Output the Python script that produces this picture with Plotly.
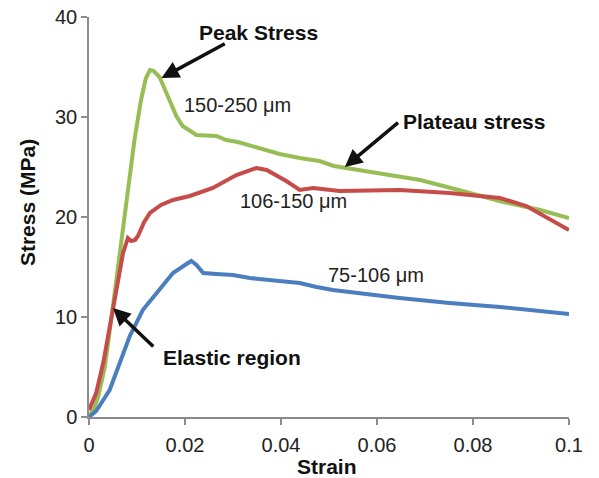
import plotly.graph_objects as go

# ---- data ----
strain_150_250 = [0, 0.001, 0.0019, 0.0033, 0.0047, 0.0071, 0.0095, 0.0108, 0.0118, 0.0127,
                  0.0135, 0.0147, 0.0168, 0.0182, 0.0195, 0.0224, 0.0265, 0.0286, 0.031, 0.0356,
                  0.0397, 0.0439, 0.048, 0.051, 0.0535, 0.0605, 0.069, 0.077, 0.0855, 0.094, 0.1]
stress_150_250 = [0, 0.8, 2.0, 5.0, 10.0, 19.0, 27.8, 31.6, 33.8, 34.7,
                  34.6, 34.0, 31.7, 30.1, 29.1, 28.2, 28.1, 27.7, 27.5, 26.9,
                  26.3, 25.9, 25.6, 25.1, 24.9, 24.4, 23.7, 22.7, 21.6, 20.7, 19.9]

strain_106_150 = [0, 0.0015, 0.003, 0.0047, 0.006, 0.0071, 0.0081, 0.0088, 0.0096, 0.0102,
                  0.0115, 0.0127, 0.015, 0.0175, 0.021, 0.0258, 0.0307, 0.0349, 0.037, 0.0411,
                  0.0439, 0.0467, 0.0522, 0.0647, 0.0751, 0.0856, 0.0911, 0.0946, 0.1]
stress_106_150 = [0.7, 2.4, 5.5, 10.0, 13.7, 16.4, 17.9, 17.6, 17.7, 18.1,
                  19.5, 20.4, 21.2, 21.7, 22.1, 22.9, 24.2, 24.9, 24.7, 23.6,
                  22.7, 22.9, 22.6, 22.7, 22.4, 21.9, 21.1, 20.2, 18.7]

strain_75_106 = [0, 0.0015, 0.0043, 0.0064, 0.0085, 0.0112, 0.0147, 0.0175, 0.02, 0.0213,
                 0.0224, 0.0238, 0.0265, 0.03, 0.0335, 0.0404, 0.0439, 0.0474, 0.0508, 0.0647,
                 0.0751, 0.0856, 0.0925, 0.1]
stress_75_106 = [0, 0.6, 2.7, 5.4, 8.1, 10.7, 12.7, 14.4, 15.2, 15.6,
                 15.2, 14.4, 14.3, 14.2, 13.9, 13.6, 13.4, 13.0, 12.7, 11.9,
                 11.4, 11.0, 10.7, 10.3]

series_labels = ["150-250 μm", "106-150 μm", "75-106 μm"]
series_colors = ["#97bd55", "#c64c49", "#4a7ebf"]

x_ticks = [0, 0.02, 0.04, 0.06, 0.08, 0.1]
x_ticktext = ["0", "0.02", "0.04", "0.06", "0.08", "0.1"]
y_ticks = [0, 10, 20, 30, 40]

FONT = "Liberation Sans, Arial, sans-serif"

fig = go.Figure()
for xs, ys, name, col in [
    (strain_150_250, stress_150_250, series_labels[0], series_colors[0]),
    (strain_106_150, stress_106_150, series_labels[1], series_colors[1]),
    (strain_75_106, stress_75_106, series_labels[2], series_colors[2]),
]:
    fig.add_trace(go.Scatter(x=xs, y=ys, mode="lines", name=name,
                             line=dict(color=col, width=4)))

annots = []
# series labels
for txt, x, y in [(series_labels[0], 0.031, 31.2),
                  (series_labels[1], 0.0426, 21.56),
                  (series_labels[2], 0.0598, 14.23)]:
    annots.append(dict(x=x, y=y, xref="x", yref="y", text=txt, showarrow=False,
                       font=dict(family=FONT, size=20, color="#222")))
# bold callouts
for txt, x, y in [("Peak Stress", 0.0353, 38.43),
                  ("Plateau stress", 0.0803, 29.56),
                  ("Elastic region", 0.0298, 5.93)]:
    annots.append(dict(x=x, y=y, xref="x", yref="y", text="<b>%s</b>" % txt,
                       showarrow=False, font=dict(family=FONT, size=21, color="#111")))
# arrows (head, tail)
for hx, hy, tx, ty in [(0.0151, 33.9, 0.0286, 37.4),
                       (0.0533, 25.0, 0.0647, 29.56),
                       (0.0050, 10.9, 0.0137, 6.9)]:
    annots.append(dict(x=hx, y=hy, ax=tx, ay=ty, xref="x", yref="y", axref="x", ayref="y",
                       text="", showarrow=True, arrowhead=2, arrowsize=1,
                       arrowwidth=3.5, arrowcolor="#111"))
# y-axis title
annots.append(dict(x=-0.129, y=0.535, xref="paper", yref="paper",
                   text="<b>Stress (MPa)</b>", textangle=-90, showarrow=False,
                   xanchor="center", yanchor="middle",
                   font=dict(family=FONT, size=21, color="#111")))
# x-axis title
annots.append(dict(x=0.496, y=-0.123, xref="paper", yref="paper",
                   text="<b>Strain</b>", showarrow=False,
                   xanchor="center", yanchor="middle",
                   font=dict(family=FONT, size=21, color="#111")))

axis_common = dict(showline=True, linecolor="#8c8c8c", linewidth=1.5, ticks="outside",
                   ticklen=6, tickcolor="#8c8c8c", tickwidth=1.5, showgrid=False,
                   zeroline=False, automargin=False,
                   tickfont=dict(family=FONT, size=20, color="#222"))

fig.update_layout(
    width=599, height=478,
    margin=dict(l=89, r=30, t=17, b=61),
    paper_bgcolor="white", plot_bgcolor="white",
    showlegend=False,
    annotations=annots,
    xaxis=dict(range=[0, 0.1], tickvals=x_ticks, ticktext=x_ticktext,
               ticklabelstandoff=3, **axis_common),
    yaxis=dict(range=[0, 40], tickvals=y_ticks, **axis_common),
)

fig.write_html("out.html")
